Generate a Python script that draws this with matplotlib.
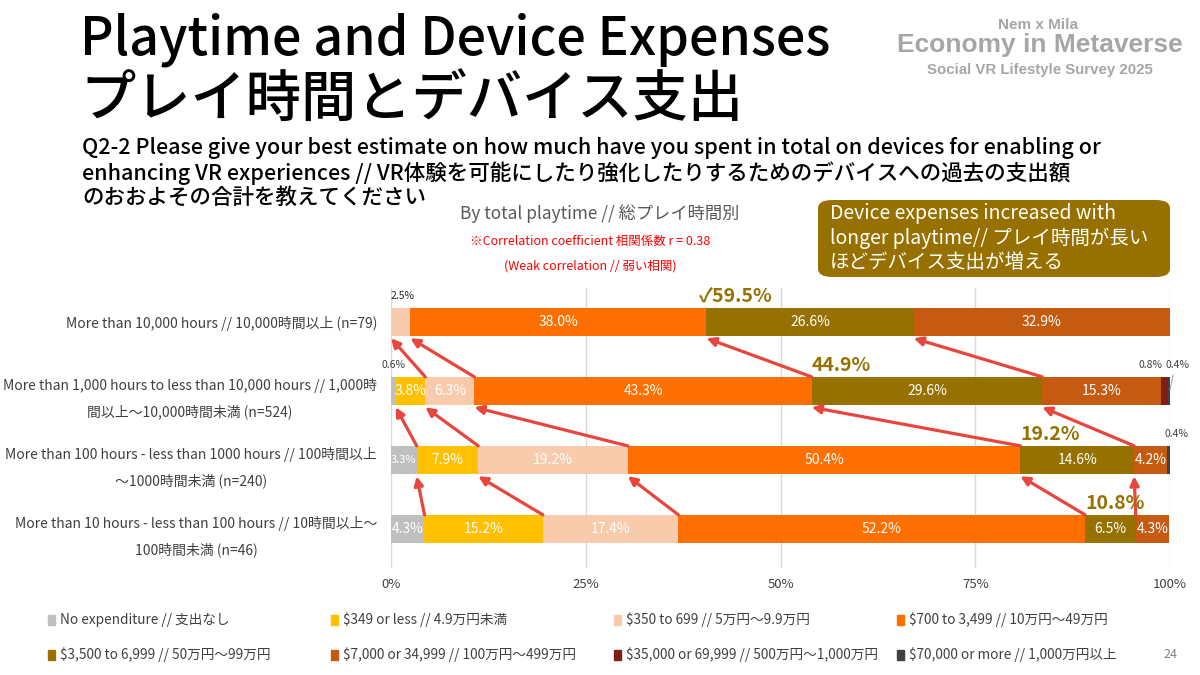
import matplotlib
matplotlib.use("Agg")
import matplotlib.pyplot as plt
from matplotlib.patches import FancyBboxPatch, Rectangle
import numpy as np

plt.rcParams['font.family'] = ['Noto Sans CJK JP', 'DejaVu Sans']

# ---- data ----
groups = [
    "More than 10,000 hours // 10,000時間以上 (n=79)",
    "More than 1,000 hours to less than 10,000 hours // 1,000時\n間以上～10,000時間未満 (n=524)",
    "More than 100 hours - less than 1000 hours // 100時間以上\n～1000時間未満 (n=240)",
    "More than 10 hours - less than 100 hours // 10時間以上～\n100時間未満 (n=46)",
]
categories = [
    "No expenditure // 支出なし",
    "\\$349 or less // 4.9万円未満",
    "\\$350 to 699 // 5万円～9.9万円",
    "\\$700 to 3,499 // 10万円～49万円",
    "\\$3,500 to 6,999 // 50万円～99万円",
    "\\$7,000 or 34,999 // 100万円～499万円",
    "\\$35,000 or 69,999 // 500万円～1,000万円",
    "\\$70,000 or more // 1,000万円以上",
]
# rows: top -> bottom, columns follow categories
values = np.array([
    [0.0, 0.0, 2.5, 38.0, 26.6, 32.9, 0.0, 0.0],
    [0.6, 3.8, 6.3, 43.3, 29.6, 15.3, 0.8, 0.4],
    [3.3, 7.9, 19.2, 50.4, 14.6, 4.2, 0.0, 0.4],
    [4.3, 15.2, 17.4, 52.2, 6.5, 4.3, 0.0, 0.0],
])
# totals shown above each bar ($3,500 and over), as printed
high_totals = [59.5, 44.9, 19.2, 10.8]

question_lines = [
    "Q2-2 Please give your best estimate on how much have you spent in total on devices for enabling or",
    "enhancing VR experiences // VR体験を可能にしたり強化したりするためのデバイスへの過去の支出額",
    "のおおよその合計を教えてください",
]

colors = ['#BFBFBF', '#FFC000', '#F8CBAD', '#FF6F00',
          '#977100', '#C55A11', '#7F1F14', '#404040']
olive = '#977100'
arrow_red = '#E8453C'

W, H = 1200, 675
fig = plt.figure(figsize=(12, 6.75), dpi=100)

def fy(y):
    return 1 - y / H

def fx(x):
    return x / W

# ---- bar axes ----
ax = fig.add_axes([fx(391), fy(568), fx(1170) - fx(391), fy(288) - fy(568)])
n = len(groups)
ypos = np.arange(n)[::-1]  # top row highest
bh = 0.41
lefts = np.zeros(n)
starts = np.zeros_like(values)
for j in range(values.shape[1]):
    starts[:, j] = lefts
    ax.barh(ypos, values[:, j], left=lefts, height=bh, color=colors[j], zorder=2)
    for i in range(n):
        v = values[i, j]
        if v >= 3:
            fs = 8 if v < 3.5 else 10
            ax.text(lefts[i] + v / 2, ypos[i], f"{v:.1f}%", ha='center', va='center',
                    color='white', fontsize=fs, zorder=4)
    lefts = lefts + values[:, j]

ax.set_xlim(0, 100)
ax.set_ylim(-0.565, 3.493)
ax.set_xticks([0, 25, 50, 75, 100])
ax.set_xticklabels(["0%", "25%", "50%", "75%", "100%"], fontsize=9.5, color='#404040')
ax.tick_params(axis='x', length=0, pad=7)
ax.set_yticks(ypos)
ax.set_yticklabels(groups, fontsize=10, color='#404040', linespacing=2.0)
for t in ax.get_yticklabels():
    t.set_multialignment('center')
ax.tick_params(axis='y', length=0, pad=10)
ax.grid(axis='x', color='#D9D9D9', lw=1, zorder=0)
for s in ax.spines.values():
    s.set_visible(False)

# small outside labels (row, category, dx px)
small = [(0, 2, 2), (1, 0, 0), (1, 6, -14), (1, 7, 8), (2, 7, 8)]
for i, j, dx in small:
    v = values[i, j]
    xc = starts[i, j] + v / 2 + dx * 100 / 779
    ax.text(xc, ypos[i] + bh / 2 + 0.1, f"{v:.1f}%", ha='center', va='bottom',
            fontsize=7.5, color='#262626' if i == 0 else '#404040', zorder=4)
# leader line for 0.4% in row 2
ax.plot([100.4, 100.0], [ypos[1] + 0.23, ypos[1] + 0.02], color='#A6A6A6', lw=0.8,
        clip_on=False, zorder=4)

# arrows between consecutive rows (lower row -> upper row)
for i in range(n - 1, 0, -1):
    up = i - 1
    for j in range(1, 6):
        if values[i, j] > 0 and values[up, j] > 0:
            ax.annotate("", xy=(starts[up, j], ypos[up] - bh / 2 - 0.03),
                        xytext=(starts[i, j], ypos[i] + bh / 2),
                        arrowprops=dict(arrowstyle='-|>', color=arrow_red, lw=2.3,
                                        mutation_scale=13, shrinkA=0, shrinkB=0),
                        zorder=5)

# high expenses totals
for i in range(n):
    label = f"{high_totals[i]:.1f}%"
    dx = 0
    if i == 0:
        label = "✓" + label
        dx = -8 * 100 / 779
    ax.text(starts[i, 4] + dx, ypos[i] + bh / 2 + 0.03, label, ha='left', va='bottom',
            fontsize=14, fontweight='bold', color=olive, zorder=6)

# ---- titles ----
fig.text(fx(80), fy(40), "Playtime and Device Expenses", fontsize=37.5, fontweight='medium',
         color='black', ha='left', va='center')
fig.text(fx(80), fy(100), "プレイ時間とデバイス支出", fontsize=39.8, fontweight='medium',
         color='black', ha='left', va='center')
for k, line in enumerate(question_lines):
    fig.text(fx(82), fy(148 + 25 * k), line, fontsize=15.5, fontweight='medium',
             color='black', ha='left', va='center')

fig.text(fx(600), fy(214), "By total playtime // 総プレイ時間別", fontsize=12.4, color='#595959',
         ha='center', va='center')
fig.text(fx(590), fy(241), "※Correlation coefficient 相関係数 r = 0.38", fontsize=9,
         color='#FF0000', ha='center', va='center')
fig.text(fx(590), fy(266), "(Weak correlation // 弱い相関)", fontsize=9,
         color='#FF0000', ha='center', va='center')

# callout box
box = FancyBboxPatch((fx(818), fy(277)), fx(1170) - fx(818), fy(200) - fy(277),
                     boxstyle="round,pad=0,rounding_size=0.012", transform=fig.transFigure,
                     facecolor=olive, edgecolor='none')
fig.patches.append(box)
fig.text(fx(830), fy(238),
         "Device expenses increased with\nlonger playtime// プレイ時間が長い\nほどデバイス支出が増える",
         fontsize=14, color='white', ha='left', va='center', linespacing=1.22)

# logo
logo_c = '#A6A6A6'
fig.text(fx(1038), fy(25), "Nem x Mila", fontsize=11, fontweight='bold', color=logo_c,
         family='Liberation Sans', ha='center', va='center')
fig.text(fx(1040), fy(45), "Economy in Metaverse", fontsize=19, fontweight='bold',
         color=logo_c, family='Liberation Sans', ha='center', va='center')
fig.text(fx(1040), fy(70), "Social VR Lifestyle Survey 2025", fontsize=10.8, fontweight='bold',
         color=logo_c, family='Liberation Sans', ha='center', va='center')

# legend (two rows of four)
col_x = [48, 331, 614, 897]
row_y = [620, 655]
for k, (lab, c) in enumerate(zip(categories, colors)):
    x0 = col_x[k % 4]
    y0 = row_y[k // 4]
    fig.patches.append(Rectangle((fx(x0), fy(y0 + 5)), fx(7), 10 / H, color=c,
                                 transform=fig.transFigure))
    fig.text(fx(x0 + 12), fy(y0), lab, fontsize=9.8, color='#404040', ha='left', va='center')

fig.text(fx(1170), fy(655), "24", fontsize=9, color='#808080', ha='center', va='center')

fig.savefig("out.png", dpi=100)
